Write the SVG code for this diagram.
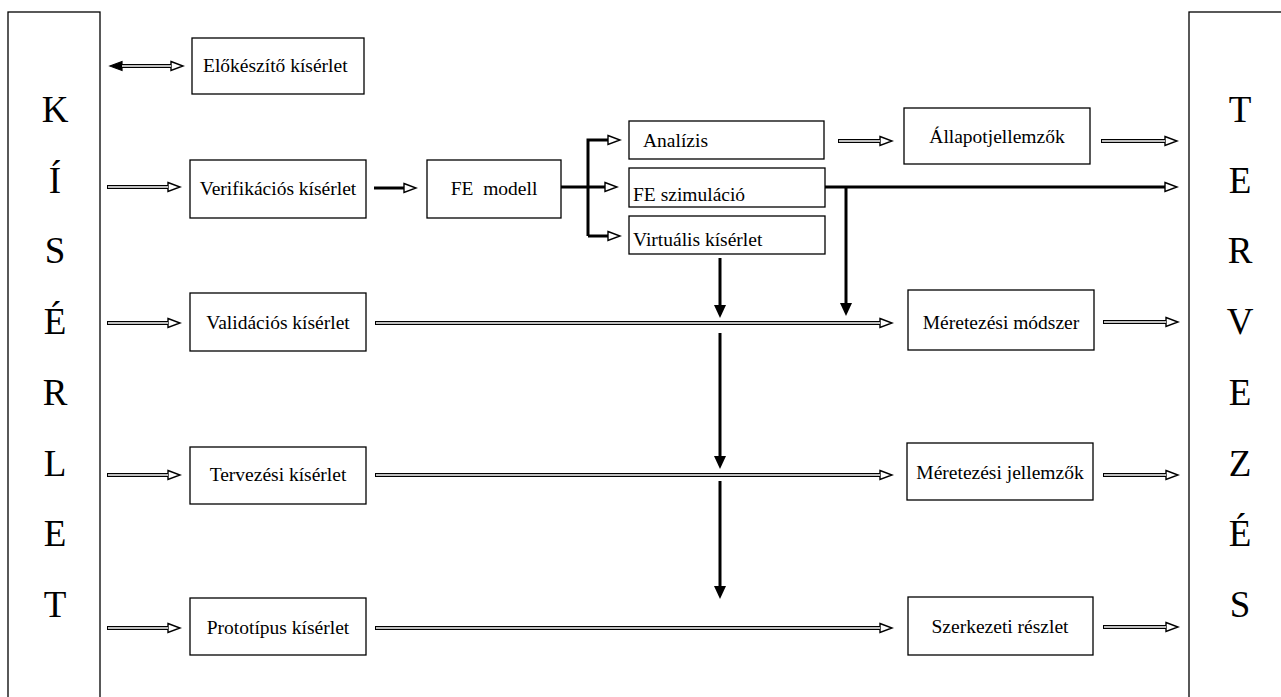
<svg xmlns="http://www.w3.org/2000/svg" width="1281" height="697" viewBox="0 0 1281 697">
<style>
.box{fill:#fff;stroke:#000;stroke-width:1.3}
.t{font-family:"Liberation Serif","Times New Roman",serif;font-size:19.5px;fill:#000}
.big{font-family:"Liberation Serif","Times New Roman",serif;font-size:37px;fill:#000;text-anchor:middle}
.c{text-anchor:middle}
.o{fill:none;stroke:#000;stroke-width:4}
.i{fill:none;stroke:#fff;stroke-width:1.3}
.s{fill:none;stroke:#000;stroke-width:3}
</style>
<defs>
<marker id="ah" markerUnits="userSpaceOnUse" markerWidth="16" markerHeight="12" refX="0" refY="6" orient="auto" overflow="visible">
<path d="M0,1.5 L12,6 L0,10.5 Z" fill="#fff" stroke="#000" stroke-width="1.4"/>
</marker>
<marker id="ahs" markerUnits="userSpaceOnUse" markerWidth="16" markerHeight="16" refX="0" refY="6" orient="auto" overflow="visible">
<path d="M0,0 L13,6 L0,12 Z" fill="#000"/>
</marker>
</defs>

<g id="kiserlet">
<rect class="box" x="8" y="12" width="92" height="700"/>
<text class="big" x="55" y="122">K</text>
<text class="big" x="55" y="193">Í</text>
<text class="big" x="55" y="263">S</text>
<text class="big" x="55" y="334">É</text>
<text class="big" x="55" y="405">R</text>
<text class="big" x="55" y="476">L</text>
<text class="big" x="55" y="546">E</text>
<text class="big" x="55" y="617">T</text>
</g>
<g id="tervezes">
<rect class="box" x="1189" y="12" width="100" height="700"/>
<text class="big" x="1240" y="122">T</text>
<text class="big" x="1240" y="193">E</text>
<text class="big" x="1240" y="263">R</text>
<text class="big" x="1240" y="334">V</text>
<text class="big" x="1240" y="405">E</text>
<text class="big" x="1240" y="476">Z</text>
<text class="big" x="1240" y="546">É</text>
<text class="big" x="1240" y="617">S</text>
</g>

<g id="elokeszito"><rect class="box" x="192" y="38" width="172" height="56"/><text class="t" x="203" y="72">Előkészítő kísérlet</text></g>
<g id="verifikacios"><rect class="box" x="190" y="160" width="176" height="58"/><text class="t c" x="278" y="195">Verifikációs kísérlet</text></g>
<g id="femodell"><rect class="box" x="427" y="160" width="134" height="58"/><text class="t c" x="494" y="195" xml:space="preserve">FE  modell</text></g>
<g id="analizis"><rect class="box" x="629" y="121" width="195" height="38"/><text class="t" x="643" y="147">Analízis</text></g>
<g id="feszim"><rect class="box" x="629" y="168" width="196" height="39"/><text class="t" x="633" y="201">FE szimuláció</text></g>
<g id="virtualis"><rect class="box" x="629" y="216" width="196" height="38"/><text class="t" x="633" y="246">Virtuális kísérlet</text></g>
<g id="allapot"><rect class="box" x="904" y="108" width="186" height="56"/><text class="t c" x="997" y="143">Állapotjellemzők</text></g>
<g id="validacios"><rect class="box" x="190" y="293" width="176" height="58"/><text class="t c" x="278" y="329">Validációs kísérlet</text></g>
<g id="meretezesi-modszer"><rect class="box" x="908" y="290" width="186" height="60"/><text class="t c" x="1001" y="329">Méretezési módszer</text></g>
<g id="tervezesi"><rect class="box" x="190" y="447" width="176" height="57"/><text class="t c" x="278" y="481">Tervezési kísérlet</text></g>
<g id="meretezesi-jellemzok"><rect class="box" x="907" y="443" width="186" height="57"/><text class="t c" x="1000" y="479">Méretezési jellemzők</text></g>
<g id="prototipus"><rect class="box" x="190" y="598" width="176" height="57"/><text class="t c" x="278" y="634">Prototípus kísérlet</text></g>
<g id="szerkezeti"><rect class="box" x="908" y="597" width="185" height="58"/><text class="t c" x="1000" y="633">Szerkezeti részlet</text></g>

<g id="connectors">
<path class="o" d="M122 66H171" marker-end="url(#ah)"/>
<path d="M122,61.5 L110,66 L122,70.5 Z" fill="#000" stroke="#000" stroke-width="1.2"/>
<path class="i" d="M122 66H171"/>
<path class="o" d="M107 187H168" marker-end="url(#ah)"/><path class="i" d="M108 187H168"/>
<path class="s" d="M374 188H404" marker-end="url(#ah)"/>
<path class="s" d="M561 187H605" marker-end="url(#ah)"/>
<path class="s" d="M588 236V140H608" marker-end="url(#ah)"/>
<path class="s" d="M588 236H608" marker-end="url(#ah)"/>
<path class="o" d="M838 141H880" marker-end="url(#ah)"/><path class="i" d="M839 141H880"/>
<path class="o" d="M1101 141H1165" marker-end="url(#ah)"/><path class="i" d="M1102 141H1165"/>
<path class="s" d="M825 187H1165" marker-end="url(#ah)"/>
<path class="s" d="M846 187V303" marker-end="url(#ahs)"/>
<path class="s" d="M720 258V305" marker-end="url(#ahs)"/>
<path class="o" d="M107 323H168" marker-end="url(#ah)"/><path class="i" d="M108 323H168"/>
<path class="o" d="M375 323H880" marker-end="url(#ah)"/><path class="i" d="M376 323H880"/>
<path class="o" d="M1103 322H1166" marker-end="url(#ah)"/><path class="i" d="M1104 322H1166"/>
<path class="s" d="M720 333V456" marker-end="url(#ahs)"/>
<path class="o" d="M107 475H168" marker-end="url(#ah)"/><path class="i" d="M108 475H168"/>
<path class="o" d="M375 475H880" marker-end="url(#ah)"/><path class="i" d="M376 475H880"/>
<path class="o" d="M1103 475H1166" marker-end="url(#ah)"/><path class="i" d="M1104 475H1166"/>
<path class="s" d="M720 481V586" marker-end="url(#ahs)"/>
<path class="o" d="M107 628H168" marker-end="url(#ah)"/><path class="i" d="M108 628H168"/>
<path class="o" d="M375 628H880" marker-end="url(#ah)"/><path class="i" d="M376 628H880"/>
<path class="o" d="M1103 627H1166" marker-end="url(#ah)"/><path class="i" d="M1104 627H1166"/>
</g>
</svg>
